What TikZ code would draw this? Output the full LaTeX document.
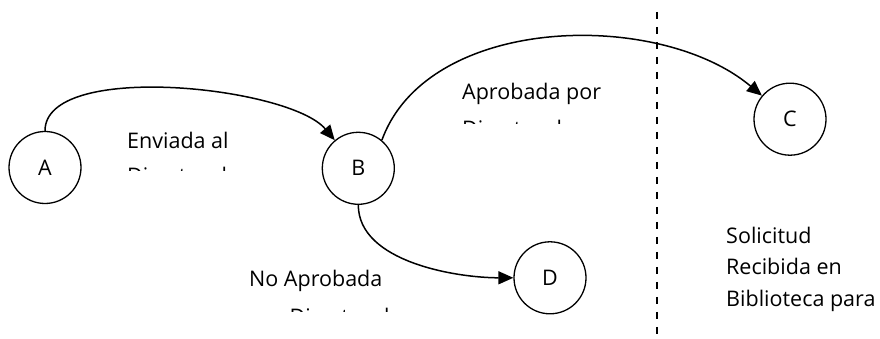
\documentclass[tikz,border=0pt]{standalone}
\usepackage{fontspec}
\setmainfont{Open Sans}
\usetikzlibrary{arrows.meta}
\tikzset{
  state/.style={draw, circle, line width=1.3pt, minimum size=72pt, inner sep=0pt},
  lbl/.style={anchor=base west, inner sep=0pt},
  flow/.style={-{Triangle[length=15pt,width=13pt]}, line width=1.5pt},
}
\begin{document}
\begin{tikzpicture}[x=1pt, y=1pt, font=\fontsize{21.5}{32}\selectfont]
  \useasboundingbox (0,0) rectangle (880,339);
  % states of the request
  \node[state] (a) at (45,171.5) {A};
  \node[state] (b) at (358.3,170.7) {B};
  \node[state] (c) at (790,219.8) {C};
  \node[state] (d) at (550,61.2) {D};

  % transition labels (second line cut off)
  \node[lbl] (enviada) at (127,190.5) {Enviada al};
  \begin{scope}
    \clip (0,168.6) rectangle (880,339);
    \node[lbl] (enviada2) at (127,155.4) {Director de};
  \end{scope}
  \node[lbl] (aprobada) at (462,239.7) {Aprobada por};
  \begin{scope}
    \clip (0,215.6) rectangle (880,339);
    \node[lbl] (aprobada2) at (462,202.4) {Director de};
  \end{scope}
  \node[lbl] (noaprobada) at (249,52) {No Aprobada};
  \begin{scope}
    \clip (0,27.6) rectangle (880,339);
    \node[lbl] (noaprobada2) at (249,14.4) {por Director de};
  \end{scope}

  % right side
  \node[lbl] (solicitud) at (726,95.7) {Solicitud};
  \node[lbl] (recibida) at (726,64) {Recibida en};
  \node[lbl] (biblioteca) at (726,32.3) {Biblioteca para};

  % divider
  \coordinate (divtop) at (657,327);
  \coordinate (divbot) at (657,0);
  \draw[line width=1.6pt, dash pattern=on 7pt off 8pt] (divtop) -- (divbot);

  \draw[flow] (a) to[out=90, in=130, looseness=0.62] (b);
  \draw[flow] (b.50) to[out=70, in=140, looseness=0.9] (c);
  \draw[flow] (b) to[out=-90, in=180, looseness=0.85] (d);
\end{tikzpicture}
\end{document}
